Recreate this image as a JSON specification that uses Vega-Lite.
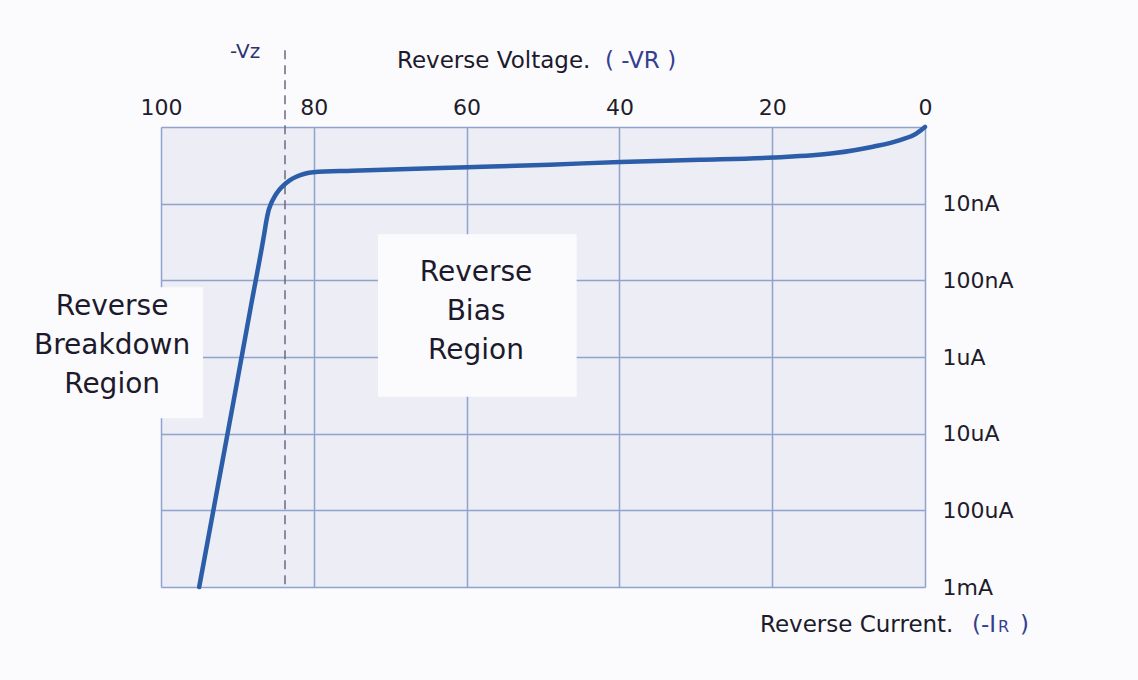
{
  "$schema": "https://vega.github.io/schema/vega-lite/v6.json",
  "width": 764,
  "height": 460,
  "autosize": {"type": "none"},
  "padding": {"left": 161, "top": 127, "right": 213, "bottom": 93},
  "background": "#fbfbfd",
  "config": {
    "view": {"fill": "#ECEDF5", "stroke": null},
    "font": "DejaVu Sans"
  },
  "datasets": {
    "curve": [
      {"v": 95.0, "d": 6.0},
      {"v": 92.7, "d": 4.76},
      {"v": 90.4, "d": 3.52},
      {"v": 88.2, "d": 2.32},
      {"v": 86.5, "d": 1.4},
      {"v": 86.2, "d": 1.22},
      {"v": 85.95, "d": 1.1},
      {"v": 85.6, "d": 1.0},
      {"v": 85.15, "d": 0.91},
      {"v": 84.6, "d": 0.83},
      {"v": 84.0, "d": 0.765},
      {"v": 83.2, "d": 0.7},
      {"v": 82.3, "d": 0.65},
      {"v": 81.2, "d": 0.61},
      {"v": 80.07, "d": 0.59},
      {"v": 75.0, "d": 0.57},
      {"v": 68.72, "d": 0.55},
      {"v": 59.95, "d": 0.525},
      {"v": 49.1, "d": 0.492},
      {"v": 39.9, "d": 0.455},
      {"v": 29.45, "d": 0.428},
      {"v": 19.9, "d": 0.398},
      {"v": 12.04, "d": 0.343},
      {"v": 6.81, "d": 0.257},
      {"v": 3.27, "d": 0.17},
      {"v": 1.09, "d": 0.082},
      {"v": 0.0, "d": 0.0}
    ],
    "boxes": [
      {"v": 121.0, "v2": 94.5, "d": 2.09, "d2": 3.8},
      {"v": 71.6, "v2": 45.6, "d": 1.4, "d2": 3.52}
    ],
    "vz": [{"v": 83.77, "d": -1.0, "d2": 6.0}],
    "regions": [
      {"v": 106.4, "d": 2.348, "t": "Reverse\nBreakdown\nRegion"},
      {"v": 58.77, "d": 1.904, "t": "Reverse\nBias\nRegion"}
    ],
    "titles": [
      {"v": 69.11, "d": -0.861, "t": "Reverse Voltage."},
      {"v": 21.6, "d": 6.496, "t": "Reverse Current."}
    ],
    "bluetitles": [
      {"v": 41.9, "d": -0.861, "t": "( -VR )"},
      {"v": -6.15, "d": 6.496, "t": "(-I"},
      {"v": -12.43, "d": 6.496, "t": ")"}
    ],
    "subs": [{"v": -9.55, "d": 6.52, "t": "R"}],
    "vzlabel": [{"v": 89.0, "d": -0.978, "t": "-Vz"}]
  },
  "encoding": {
    "x": {
      "field": "v",
      "type": "quantitative",
      "scale": {"domain": [0, 100], "reverse": true, "nice": false, "zero": false},
      "axis": {
        "orient": "top",
        "title": null,
        "values": [100, 80, 60, 40, 20, 0],
        "grid": true,
        "gridColor": "#8EA3CF",
        "gridWidth": 1.5,
        "domain": false,
        "ticks": false,
        "tickSize": 0,
        "labelFont": "DejaVu Sans",
        "labelFontSize": 22,
        "labelColor": "#1f1d2b",
        "labelPadding": 8,
        "labelFlush": false,
        "labelOverlap": false
      }
    },
    "y": {
      "field": "d",
      "type": "quantitative",
      "scale": {"domain": [0, 6], "reverse": true, "nice": false, "zero": false},
      "axis": {
        "orient": "right",
        "title": null,
        "values": [0, 1, 2, 3, 4, 5, 6],
        "labelExpr": "['', '10nA', '100nA', '1uA', '10uA', '100uA', '1mA'][datum.value]",
        "grid": true,
        "gridColor": "#8EA3CF",
        "gridWidth": 1.5,
        "domain": false,
        "ticks": false,
        "tickSize": 0,
        "labelFont": "DejaVu Sans",
        "labelFontSize": 22,
        "labelColor": "#1f1d2b",
        "labelPadding": 17,
        "labelAlign": "left",
        "labelBaseline": "middle",
        "labelFlush": false,
        "labelOverlap": false
      }
    }
  },
  "layer": [
    {
      "data": {"name": "boxes"},
      "mark": {"type": "rect", "fill": "#fbfbfd", "clip": false},
      "encoding": {"x2": {"field": "v2"}, "y2": {"field": "d2"}}
    },
    {
      "data": {"name": "vz"},
      "mark": {"type": "rule", "color": "#6E6882", "strokeWidth": 1.5, "strokeDash": [9, 6], "clip": false},
      "encoding": {"y2": {"field": "d2"}}
    },
    {
      "data": {"name": "curve"},
      "mark": {"type": "line", "color": "#2B5DA9", "strokeWidth": 4.5, "interpolate": "monotone", "strokeCap": "round"},
      "encoding": {"order": {"field": "v", "sort": "descending"}}
    },
    {
      "data": {"name": "regions"},
      "mark": {"type": "text", "font": "DejaVu Sans", "fontSize": 28, "color": "#1c1a2c", "align": "center", "baseline": "middle", "lineBreak": "\n", "lineHeight": 39},
      "encoding": {"text": {"field": "t"}}
    },
    {
      "data": {"name": "titles"},
      "mark": {"type": "text", "font": "DejaVu Sans", "fontSize": 23, "color": "#1c1a2c", "align": "left", "baseline": "middle"},
      "encoding": {"text": {"field": "t"}}
    },
    {
      "data": {"name": "bluetitles"},
      "mark": {"type": "text", "font": "DejaVu Sans", "fontSize": 23, "color": "#34408F", "align": "left", "baseline": "middle"},
      "encoding": {"text": {"field": "t"}}
    },
    {
      "data": {"name": "subs"},
      "mark": {"type": "text", "font": "DejaVu Sans", "fontSize": 16, "color": "#34408F", "align": "left", "baseline": "middle"},
      "encoding": {"text": {"field": "t"}}
    },
    {
      "data": {"name": "vzlabel"},
      "mark": {"type": "text", "font": "DejaVu Sans", "fontSize": 20, "color": "#2E3370", "align": "center", "baseline": "middle"},
      "encoding": {"text": {"field": "t"}}
    }
  ]
}
